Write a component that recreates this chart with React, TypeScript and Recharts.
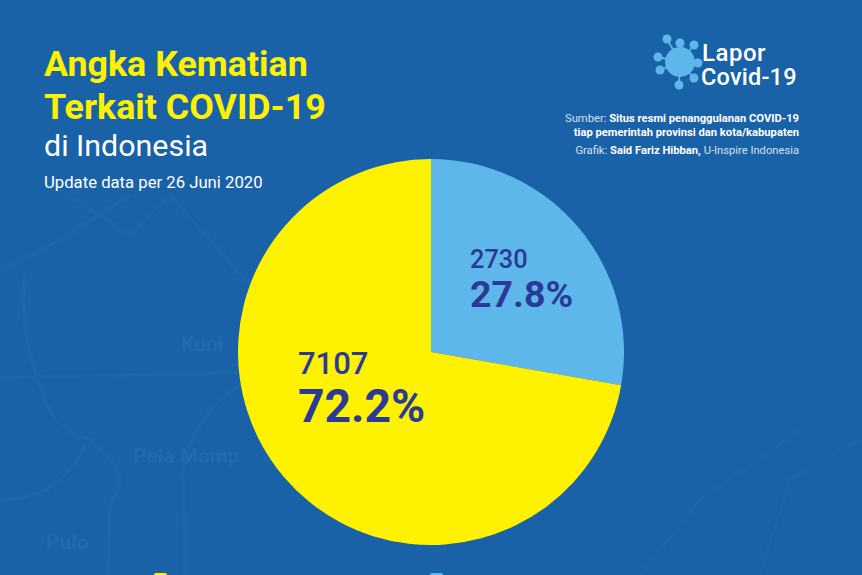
import { PieChart, Pie, Cell } from "recharts";

const categories = ["Kategori A", "Kategori B"];
const deaths = [2730, 7107];
const shares = ["27.8%", "72.2%"];
const sliceColors = ["#5EB7EA", "#FFF200"];
const titleLines = ["Angka Kematian", "Terkait COVID-19"];

const data = categories.map((name, i) => ({ name, value: deaths[i] }));

const W = 862;
const H = 575;
const CX = 431;
const CY = 352;
const labelStyle = [
  { x: 470, y1: 268, y2: 307, size1: 25.3, size2: 37.5 },
  { x: 298, y1: 374, y2: 422, size1: 31, size2: 46.3 },
];

const renderLabel = (props: any) => {
  const p = labelStyle[props.index];
  return (
    <g>
      <text x={p.x} y={p.y1} fontSize={p.size1} fontWeight={500} fill="#2B3A96" fontFamily="Roboto">
        {deaths[props.index]}
      </text>
      <text x={p.x} y={p.y2} fontSize={p.size2} fontWeight={700} fill="#2B3A96" fontFamily="Roboto">
        {shares[props.index]}
      </text>
    </g>
  );
};

// faint street map behind the chart
const roads = [
  "M0 272 L60 240 L130 195",
  "M60 190 L130 235 L170 195",
  "M170 195 L250 285",
  "M25 275 C20 320 30 360 40 385 C50 420 60 430 90 440 C125 470 125 480 110 505 L108 575",
  "M0 378 L240 372",
  "M0 500 C40 500 70 480 85 445",
  "M185 575 L183 470 C190 430 215 400 240 385",
];
const farRoads = ["M640 575 L700 500 L800 430", "M760 575 L790 480 L860 440"];

const virusArms = [
  [-13, -23], [14, -17], [-22, -5], [-20, 8], [-1, 23], [14, 16], [18, 1], [0, -19],
];

export default function App() {
  return (
    <div style={{ position: "absolute", left: 0, top: 0, width: W, height: H, overflow: "hidden", background: "#1A62A7", fontFamily: "Roboto" }}>
      <svg width={W} height={H} style={{ position: "absolute", left: 0, top: 0 }}>
        <defs>
          <pattern id="streets" width={11} height={9} patternUnits="userSpaceOnUse">
            <path d="M0 0H11M0 0V9" fill="none" stroke="#1B66AB" strokeWidth={1} />
          </pattern>
        </defs>
        <rect x={0} y={200} width={W} height={375} fill="url(#streets)" opacity={0.5} />
        {roads.map((d, i) => (
          <path key={i} d={d} fill="none" stroke="#1B67AC" strokeWidth={3.5} />
        ))}
        {farRoads.map((d, i) => (
          <path key={i} d={d} fill="none" stroke="#1B65AA" strokeWidth={3} />
        ))}
        <g fontFamily="Roboto" fontWeight={700} fontSize={21} fill="#1E6BB0">
          <text x={181} y={351}>Kuni</text>
          <text x={133} y={463}>Pela Mamp</text>
          <text x={46} y={549}>Pulo</text>
        </g>
        <g fontFamily="Roboto">
          <text x={44} y={76} fontSize={35.8} fontWeight={700} fill="#FFF200">{titleLines[0]}</text>
          <text x={44} y={119} fontSize={35.8} fontWeight={700} fill="#FFF200">{titleLines[1]}</text>
          <text x={44} y={156} fontSize={30.4} fill="#FFFFFF">di Indonesia</text>
          <text x={44} y={188} fontSize={16.7} fill="#FFFFFF">Update data per 26 Juni 2020</text>
        </g>
        <g transform="translate(680 62)" fill="#5EB7EA" stroke="#5EB7EA">
          <circle r={15} stroke="none" />
          {virusArms.map(([x, y], i) => (
            <g key={i}>
              <line x1={0} y1={0} x2={x} y2={y} strokeWidth={1.8} />
              <circle cx={x} cy={y} r={4.5} stroke="none" />
            </g>
          ))}
        </g>
        <g fontFamily="Roboto" fill="#FFFFFF" fontWeight={500}>
          <text x={702} y={61} fontSize={24} letterSpacing={0.5}>Lapor</text>
          <text x={701} y={85} fontSize={23.5} letterSpacing={0.2}>Covid-19</text>
        </g>
        <g fontFamily="Roboto" fontSize={11.2} fill="#FFFFFF" textAnchor="end">
          <text x={799} y={122} fill="#D5E3F2">
            Sumber: <tspan fontWeight={700} fill="#FFFFFF">Situs resmi penanggulanan COVID-19</tspan>
          </text>
          <text x={799} y={136} fontWeight={700}>tiap pemerintah provinsi dan kota/kabupaten</text>
          <text x={799} y={154} fill="#D5E3F2">
            Grafik: <tspan fontWeight={700} fill="#FFFFFF">Said Fariz Hibban,</tspan> U-Inspire Indonesia
          </text>
        </g>
        <rect x={154} y={573} width={13} height={4} rx={2} fill="#FFF200" />
        <rect x={430} y={573} width={13} height={4} rx={2} fill="#5EB7EA" />
      </svg>
      <div style={{ position: "absolute", left: 0, top: 0 }}>
        <PieChart width={W} height={H} margin={{ top: 0, right: 0, bottom: 0, left: 0 }}>
          <Pie
            data={data}
            dataKey="value"
            nameKey="name"
            cx={CX}
            cy={CY}
            innerRadius={0}
            outerRadius={193}
            startAngle={90}
            endAngle={-270}
            stroke="none"
            label={renderLabel}
            labelLine={false}
            isAnimationActive={false}
          >
            {data.map((d, i) => (
              <Cell key={d.name} fill={sliceColors[i]} />
            ))}
          </Pie>
        </PieChart>
      </div>
    </div>
  );
}
